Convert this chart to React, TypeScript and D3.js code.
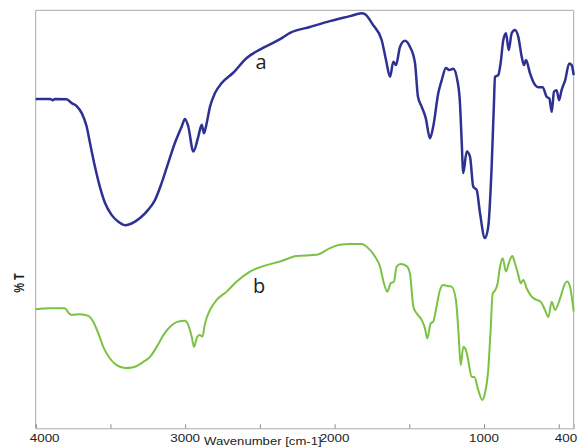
import { useEffect, useRef } from "react";
import * as d3 from "d3";

// wavenumber (cm-1) and %T
const wnA = [4000, 3904, 3886, 3871, 3793, 3759, 3726, 3692, 3659, 3637, 3603, 3570, 3536, 3491, 3447, 3402, 3358, 3302, 3249, 3202, 3157, 3113, 3068, 3023, 3001, 2979, 2945, 2912, 2889, 2874, 2856, 2834, 2800, 2755, 2680, 2588, 2479, 2365, 2298, 2165, 2031, 1897, 1819, 1797, 1743, 1685, 1656, 1629, 1607, 1589, 1562, 1529, 1496, 1462, 1442, 1417, 1390, 1362, 1340, 1306, 1283, 1255, 1233, 1206, 1179, 1161, 1150, 1139, 1116, 1094, 1072, 1049, 1027, 994, 972, 949, 933, 927, 905, 889, 871, 853, 835, 815, 793, 771, 748, 733, 719, 693, 671, 637, 608, 581, 563, 547, 532, 514, 498, 481, 457, 430, 414, 400];
const tA = [78.8, 78.8, 78.5, 78.8, 78.7, 77.8, 77.1, 75.4, 72.2, 68.3, 62.5, 57.7, 53.9, 51.0, 49.4, 48.6, 49.0, 50.3, 52.2, 54.6, 58.7, 63.5, 68.3, 72.2, 74.0, 72.2, 66.2, 69.8, 72.6, 70.6, 73.0, 76.9, 80.2, 82.6, 85.0, 88.6, 91.0, 93.1, 94.6, 96.0, 97.4, 98.6, 99.3, 99.1, 96.5, 92.9, 88.1, 84.1, 87.7, 86.9, 91.3, 92.7, 91.3, 87.4, 79.3, 76.9, 74.2, 69.4, 72.2, 80.2, 83.3, 86.2, 85.7, 86.0, 83.3, 77.8, 69.0, 61.1, 66.2, 65.0, 57.8, 57.0, 51.5, 45.5, 48.2, 62.6, 78.5, 84.1, 84.5, 87.4, 92.9, 94.5, 90.5, 94.5, 95.3, 93.7, 88.9, 86.9, 88.1, 85.0, 82.9, 81.6, 81.6, 79.3, 78.9, 75.7, 80.5, 80.9, 78.5, 80.9, 83.3, 87.3, 86.9, 84.5];

const wnB = [4000, 3904, 3804, 3782, 3759, 3704, 3648, 3615, 3581, 3548, 3503, 3458, 3402, 3347, 3280, 3235, 3190, 3146, 3101, 3057, 3001, 2979, 2956, 2941, 2919, 2901, 2885, 2867, 2834, 2789, 2722, 2655, 2566, 2477, 2365, 2254, 2120, 2031, 1964, 1897, 1819, 1775, 1730, 1696, 1670, 1647, 1625, 1603, 1585, 1558, 1518, 1496, 1473, 1451, 1417, 1395, 1380, 1357, 1340, 1322, 1295, 1273, 1239, 1217, 1188, 1172, 1156, 1139, 1121, 1106, 1083, 1065, 1039, 1012, 994, 972, 956, 942, 927, 909, 893, 875, 853, 831, 811, 793, 771, 755, 737, 715, 681, 648, 621, 592, 570, 547, 525, 491, 457, 443, 420, 400];
const tB = [28.5, 28.7, 28.7, 27.7, 27.1, 27.3, 26.9, 25.5, 22.7, 19.5, 16.7, 15.1, 14.4, 14.6, 15.9, 17.1, 19.5, 22.3, 24.3, 25.4, 25.7, 24.7, 21.9, 19.5, 21.9, 22.3, 21.9, 25.1, 28.3, 30.7, 32.7, 35.1, 37.5, 38.8, 39.9, 41.2, 41.5, 43.1, 43.9, 44.1, 44.1, 43.1, 41.1, 38.7, 34.7, 32.7, 34.7, 35.1, 38.7, 39.3, 38.8, 37.1, 29.1, 27.5, 25.9, 23.9, 21.5, 25.1, 25.5, 28.3, 33.1, 34.3, 34.0, 33.9, 30.7, 23.5, 15.1, 19.5, 18.7, 16.3, 12.3, 12.3, 9.2, 6.8, 8.4, 13.9, 23.5, 32.3, 32.9, 34.7, 38.7, 40.7, 37.5, 39.9, 41.2, 39.5, 36.7, 34.7, 35.5, 33.5, 31.5, 30.7, 30.3, 28.3, 26.6, 30.3, 28.3, 31.1, 34.7, 35.1, 33.1, 27.9];

const tickValues = [4000, 3500, 3000, 2500, 2000, 1500, 1000, 500];
const tickLabels = ["4000", "3000", "2000", "1000", "400"];
const tickLabelValues = [4000, 3000, 2000, 1000, 400];

export default function App() {
  const svgRef = useRef<SVGSVGElement | null>(null);

  useEffect(() => {
    if (!svgRef.current) return;
    document.body.style.margin = "0";

    const width = 577;
    const height = 447;
    const left = 35.7, right = 573.7, top = 10.3, bottom = 428.3;

    const svg = d3.select(svgRef.current);
    svg.selectAll("*").remove();

    const x = d3.scaleLinear().domain([4000, 400]).range([left, right]);
    const y = d3.scaleLinear().domain([0, 100]).range([bottom, top]);

    // frame
    svg.append("path")
      .attr("d", `M${left},${bottom}V${top}H${right}V${bottom}`)
      .attr("fill", "none")
      .attr("stroke", "#a8a8a8")
      .attr("stroke-width", 1);

    const axis = svg.append("g")
      .attr("transform", `translate(0,${bottom})`)
      .call(d3.axisBottom(x).tickValues(tickValues).tickSize(-4).tickFormat(() => ""));
    axis.select(".domain").attr("stroke", "#a8a8a8");
    axis.selectAll(".tick line").attr("stroke", "#888");

    const fontFam = "'Liberation Sans', Arial, sans-serif";

    tickLabelValues.forEach((v, i) => {
      const first = i === 0;
      const last = i === tickLabelValues.length - 1;
      // end labels sit inside the frame, like the original
      const px = first ? x(v) - 6 : last ? x(v) - 19 : x(v);
      svg.append("text")
        .attr("transform", `translate(${px},442) scale(1.28,1)`)
        .attr("text-anchor", first || last ? "start" : "middle")
        .attr("font-family", fontFam)
        .attr("font-size", 10.5)
        .attr("fill", "#222")
        .text(tickLabels[i]);
    });

    svg.append("text")
      .attr("transform", `translate(${x(2480)},444.5) scale(1.25,1)`)
      .attr("text-anchor", "middle")
      .attr("font-family", fontFam)
      .attr("font-size", 10.5)
      .attr("fill", "#222")
      .text("Wavenumber [cm-1]");

    svg.append("text")
      .attr("transform", `translate(24,283) scale(1.25,1) rotate(-90)`)
      .attr("text-anchor", "middle")
      .attr("font-family", fontFam)
      .attr("font-size", 11)
      .attr("font-weight", "bold")
      .attr("fill", "#222")
      .text("% T");

    const line = d3.line<[number, number]>()
      .x(d => x(d[0]))
      .y(d => y(d[1]))
      .curve(d3.curveMonotoneX);

    const dataB = wnB.map((w, i) => [w, tB[i]] as [number, number]);
    const dataA = wnA.map((w, i) => [w, tA[i]] as [number, number]);

    svg.append("path")
      .datum(dataB)
      .attr("fill", "none")
      .attr("stroke", "#7cc242")
      .attr("stroke-width", 2)
      .attr("stroke-linejoin", "round")
      .attr("d", line);

    svg.append("path")
      .datum(dataA)
      .attr("fill", "none")
      .attr("stroke", "#2e3192")
      .attr("stroke-width", 2.5)
      .attr("stroke-linejoin", "round")
      .attr("d", line);

    svg.append("text")
      .attr("x", x(2530))
      .attr("y", y(86))
      .attr("font-family", "'Open Sans', sans-serif")
      .attr("font-size", 20)
      .attr("fill", "#222")
      .text("a");

    svg.append("text")
      .attr("x", x(2546))
      .attr("y", y(32.4))
      .attr("font-family", "'Open Sans', sans-serif")
      .attr("font-size", 20)
      .attr("fill", "#222")
      .text("b");

    svg.attr("width", width).attr("height", height);
  }, []);

  return <svg ref={svgRef} width={577} height={447} style={{ display: "block" }} />;
}
